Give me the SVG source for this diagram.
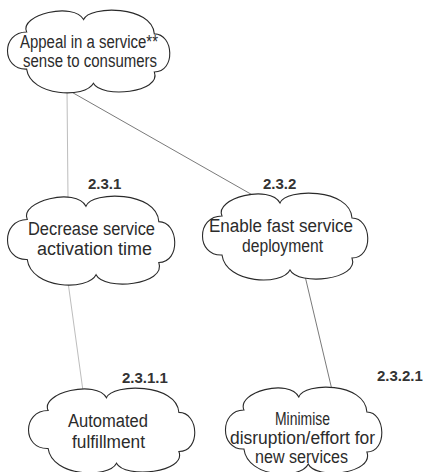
<svg xmlns="http://www.w3.org/2000/svg" width="423" height="472" viewBox="0 0 423 472">
  <style>
    .cloud{fill:#fff;stroke:#2a2a2a;stroke-width:1.1;vector-effect:non-scaling-stroke}
    .txt{font-family:"Liberation Sans",Arial,sans-serif;font-size:18px;fill:#2b2b2b}
    .lbl{font-family:"Liberation Sans",Arial,sans-serif;font-size:15px;font-weight:bold;fill:#333}
    .link{fill:none;stroke-width:1}
    .light{stroke:#bdbdbd}
    .mid{stroke:#7a7a7a}
  </style>
  <defs>
    <!-- two-bump cloud outline, 166 x 84 box -->
    <path id="cloudShape" class="cloud" d="M20,22 C12,4 68,-10 78,9 C84,-6 148,-6 150,24 C170,24 172,64 150,64 C158,86 96,92 88,76 C80,92 24,90 20,61 C-6,62 -6,22 20,22 Z"/>
  </defs>

  <g id="connectors">
    <path class="link light" d="M67,90 L68,198"/>
    <path class="link mid" d="M68,90 L256,197"/>
    <path class="link light" d="M68,282 L83,391"/>
    <path class="link mid" d="M305,276 L332,390"/>
  </g>

  <g id="node-root">
    <use href="#cloudShape" transform="translate(7,11) scale(0.982,0.952)"/>
    <text class="txt" x="20" y="48" textLength="138" lengthAdjust="spacingAndGlyphs">Appeal in a service**</text>
    <text class="txt" x="23" y="67" textLength="134" lengthAdjust="spacingAndGlyphs">sense to consumers</text>
  </g>

  <g id="node-2-3-1">
    <text class="lbl" x="88" y="189">2.3.1</text>
    <use href="#cloudShape" transform="translate(7,197) scale(1.012,1.024)"/>
    <text class="txt" x="28" y="235" textLength="127" lengthAdjust="spacingAndGlyphs">Decrease service</text>
    <text class="txt" x="37" y="255" textLength="115" lengthAdjust="spacingAndGlyphs">activation time</text>
  </g>

  <g id="node-2-3-2">
    <text class="lbl" x="263" y="189">2.3.2</text>
    <use href="#cloudShape" transform="translate(202,194)"/>
    <text class="txt" x="209" y="232" textLength="144" lengthAdjust="spacingAndGlyphs">Enable fast service</text>
    <text class="txt" x="242" y="252" textLength="81" lengthAdjust="spacingAndGlyphs">deployment</text>
  </g>

  <g id="node-2-3-1-1">
    <text class="lbl" x="122" y="383">2.3.1.1</text>
    <use href="#cloudShape" transform="translate(28,389) scale(1.006,0.976)"/>
    <text class="txt" x="68" y="427" textLength="80" lengthAdjust="spacingAndGlyphs">Automated</text>
    <text class="txt" x="72" y="448" textLength="73" lengthAdjust="spacingAndGlyphs">fulfillment</text>
  </g>

  <g id="node-2-3-2-1">
    <text class="lbl" x="377" y="381">2.3.2.1</text>
    <use href="#cloudShape" transform="translate(225,388) scale(0.946,1)"/>
    <text class="txt" x="275" y="425" textLength="55" lengthAdjust="spacingAndGlyphs">Minimise</text>
    <text class="txt" x="230" y="444" textLength="145" lengthAdjust="spacingAndGlyphs">disruption/effort for</text>
    <text class="txt" x="255" y="463" textLength="93" lengthAdjust="spacingAndGlyphs">new services</text>
  </g>
</svg>
